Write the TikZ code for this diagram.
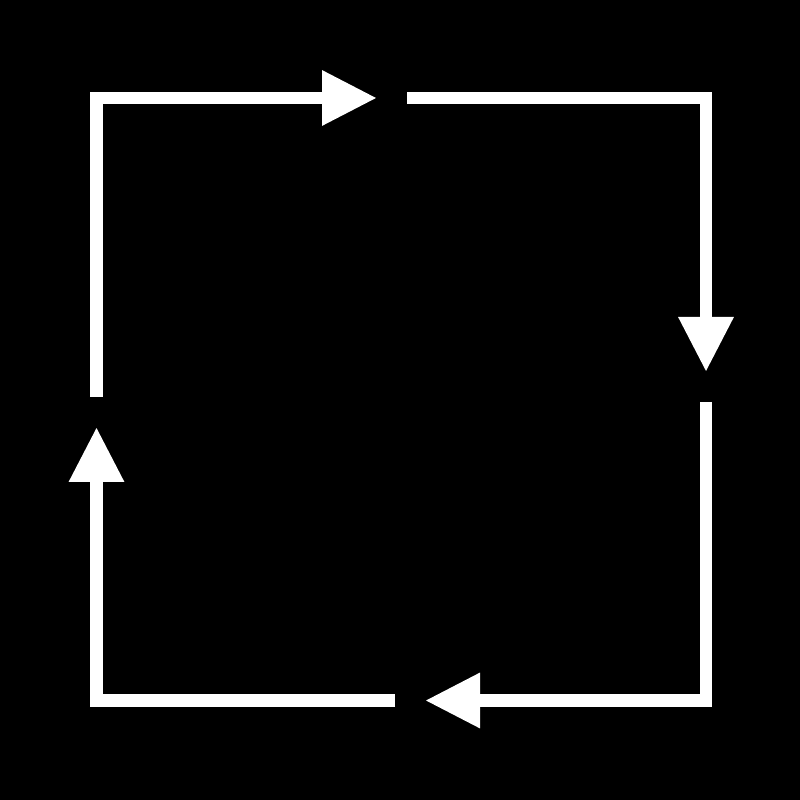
\documentclass[tikz,border=0pt]{standalone}
\usepackage{tikz}
\usetikzlibrary{arrows.meta}
\tikzset{
  cyc_l/.style = {draw=white, line width=0.125cm, line join=miter,
    -{Triangle[length=0.55cm,width=0.52cm]}},% fleche en L
  cyc_bg/.style = {fill=black}% fond noir
}

\begin{document}
\begin{tikzpicture}
\fill [cyc_bg] (0,0) rectangle (8,8);
\useasboundingbox (0,0) rectangle (8,8);
% coins et bouts
\coordinate (TLs) at (0.965,4.03);
\coordinate (TLc) at (0.965,7.02);
\coordinate (TLe) at (3.77,7.02);
\coordinate (TRs) at (4.07,7.02);
\coordinate (TRc) at (7.06,7.02);
\coordinate (TRe) at (7.06,4.28);
\coordinate (BRs) at (7.06,3.98);
\coordinate (BRc) at (7.06,0.995);
\coordinate (BRe) at (4.25,0.995);
\coordinate (BLs) at (3.95,0.995);
\coordinate (BLc) at (0.965,0.995);
\coordinate (BLe) at (0.965,3.73);

\draw [cyc_l] (TLs) -- (TLc) -- (TLe);
\draw [cyc_l] (TRs) -- (TRc) -- (TRe);
\draw [cyc_l] (BRs) -- (BRc) -- (BRe);
\draw [cyc_l] (BLs) -- (BLc) -- (BLe);
\end{tikzpicture}
\end{document}
